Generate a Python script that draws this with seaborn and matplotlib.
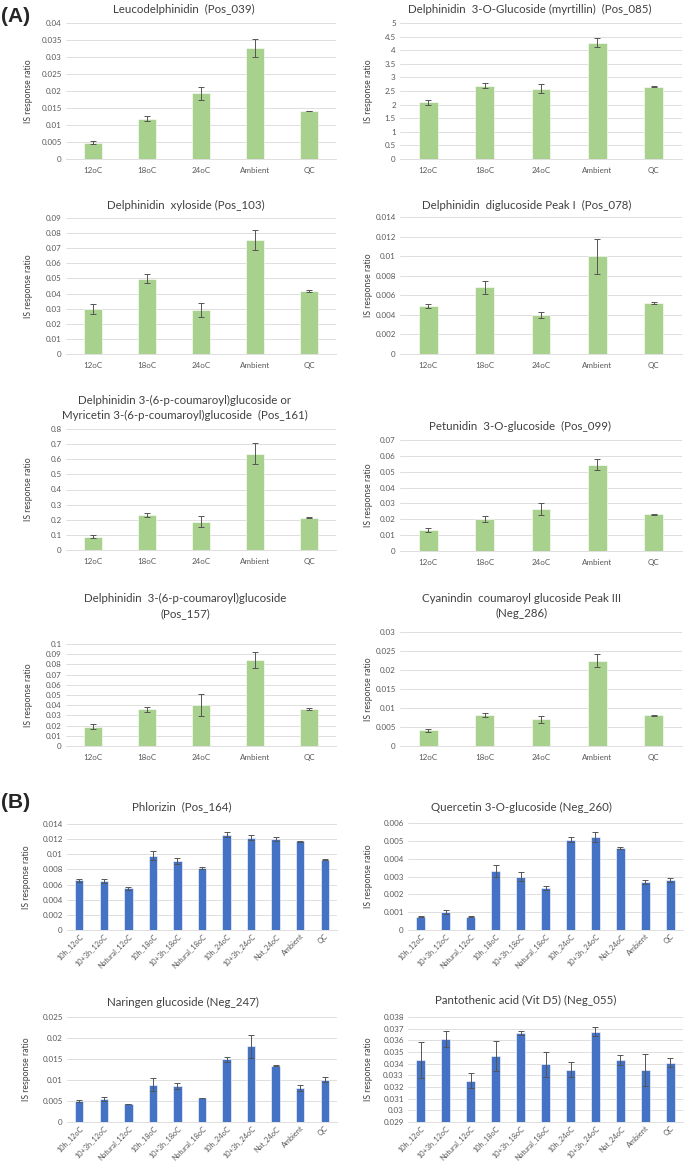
import matplotlib
matplotlib.use("Agg")
import matplotlib.pyplot as plt
import seaborn as sns
import pandas as pd
import numpy as np

# ---------------- data ----------------
temps = ["12oC", "18oC", "24oC", "Ambient", "QC"]
regimes = ["10h_12oC", "10+3h_12oC", "Natural_12oC", "10h_18oC", "10+3h_18oC",
           "Natural_18oC", "10h_24oC", "10+3h_24oC", "Nat_24oC", "Ambient", "QC"]

# (A) anthocyanins
leuco_mean = [0.0048, 0.0119, 0.0193, 0.0327, 0.0141]
leuco_err = [0.0005, 0.0008, 0.0020, 0.0026, 0.0001]
myrt_mean = [2.08, 2.70, 2.59, 4.28, 2.66]
myrt_err = [0.09, 0.10, 0.18, 0.17, 0.02]
xylo_mean = [0.0297, 0.0498, 0.0291, 0.0755, 0.0415]
xylo_err = [0.0033, 0.0030, 0.0045, 0.0065, 0.0007]
diglu_mean = [0.0049, 0.0068, 0.0040, 0.0100, 0.0052]
diglu_err = [0.0002, 0.0007, 0.0003, 0.0018, 0.0001]
p161_mean = [0.088, 0.232, 0.188, 0.637, 0.212]
p161_err = [0.010, 0.012, 0.037, 0.070, 0.003]
petu_mean = [0.0133, 0.0200, 0.0265, 0.0545, 0.0233]
petu_err = [0.0015, 0.0020, 0.0035, 0.0037, 0.0003]
p157_mean = [0.0190, 0.0360, 0.0400, 0.0845, 0.0365]
p157_err = [0.0025, 0.0025, 0.0105, 0.0080, 0.0010]
cyan_mean = [0.0041, 0.0082, 0.0070, 0.0224, 0.0081]
cyan_err = [0.0005, 0.0005, 0.0010, 0.0017, 0.0001]

# (B) other compounds
phlo_mean = [0.0066, 0.0065, 0.0055, 0.0098, 0.0091, 0.0082, 0.0126, 0.0122, 0.0120, 0.0117, 0.0093]
phlo_err = [0.0002, 0.0003, 0.0002, 0.0006, 0.0004, 0.0001, 0.0003, 0.0003, 0.0003, 0.0001, 0.0001]
querc_mean = [0.00075, 0.0010, 0.00075, 0.0033, 0.0030, 0.00235, 0.00507, 0.00523, 0.0046, 0.0027, 0.0028]
querc_err = [0.00003, 0.0001, 0.00002, 0.00033, 0.00025, 0.00013, 0.00015, 0.00028, 0.00005, 0.0001, 0.0001]
narin_mean = [0.0050, 0.0055, 0.0043, 0.0089, 0.0086, 0.0057, 0.0149, 0.0180, 0.0134, 0.0080, 0.0101]
narin_err = [0.0002, 0.0004, 0.0001, 0.0016, 0.0008, 0.0001, 0.0006, 0.0028, 0.0001, 0.0007, 0.0005]
panto_mean = [0.03430, 0.03610, 0.03255, 0.03468, 0.03662, 0.03395, 0.03348, 0.03673, 0.03432, 0.03348, 0.03410]
panto_err = [0.00155, 0.00070, 0.00065, 0.00128, 0.00020, 0.00105, 0.00063, 0.00040, 0.00040, 0.00138, 0.00035]

GREEN = "#A9D18E"
BLUE = "#4472C4"
TXT = "#595959"

sns.set_theme(style="white")
plt.rcParams["font.family"] = ["Lato", "DejaVu Sans"]

W, H = 685, 1163
fig = plt.figure(figsize=(W / 100, H / 100), dpi=100)


def fmt(v, pos=None):
    return f"{round(v, 6):g}"


def draw(box, ylab_x, title, title_xy, cats, mean, err, lo, hi, nticks, color, rotate=False):
    x0, yt, x1, yb = box
    ax = fig.add_axes([x0 / W, 1 - yb / H, (x1 - x0) / W, (yb - yt) / H])
    df = pd.DataFrame({"cat": cats, "val": mean})
    sns.barplot(data=df, x="cat", y="val", ax=ax, color=color, saturation=1,
                width=0.33 if not rotate else 0.34, errorbar=None,
                edgecolor="white", linewidth=0.4)
    ax.errorbar(np.arange(len(cats)), mean, yerr=err, fmt="none", ecolor="#555555",
                elinewidth=0.7, capsize=2, capthick=0.7, zorder=4)
    ax.set_xlim(-0.5, len(cats) - 0.5)
    ax.set_ylim(lo, hi)
    ax.set_yticks(np.linspace(lo, hi, nticks))
    ax.yaxis.set_major_formatter(plt.FuncFormatter(fmt))
    ax.yaxis.grid(True, color="#D9D9D9", lw=0.6)
    ax.set_axisbelow(True)
    for s in ["top", "right", "left"]:
        ax.spines[s].set_visible(False)
    ax.spines["bottom"].set_color("#D9D9D9")
    ax.spines["bottom"].set_linewidth(0.6)
    ax.tick_params(axis="both", length=0, labelsize=5.8, labelcolor=TXT, pad=3)
    ax.set_xlabel("")
    ax.set_ylabel("IS response ratio", fontsize=6.2, color="#404040")
    ax.yaxis.set_label_coords((ylab_x - x0) / (x1 - x0), 0.5)
    if rotate:
        for lbl in ax.get_xticklabels():
            lbl.set_rotation(45)
            lbl.set_ha("right")
            lbl.set_rotation_mode("anchor")
            lbl.set_fontsize(5.3)
        ax.tick_params(axis="x", pad=2)
    else:
        ax.tick_params(axis="x", pad=6)
    fig.text(title_xy[0] / W, 1 - title_xy[1] / H, title, ha="center", va="center",
             fontsize=8.3, color="#404040", linespacing=1.35)
    return ax


LX0, LX1, RX0, RX1 = 66, 336, 400, 682

draw((LX0, 23, LX1, 159), 33, "Leucodelphinidin  (Pos_039)", (184, 9),
     temps, leuco_mean, leuco_err, 0, 0.04, 9, GREEN)
draw((RX0, 23, RX1, 159), 373, "Delphinidin  3-O-Glucoside (myrtillin)  (Pos_085)", (530, 9),
     temps, myrt_mean, myrt_err, 0, 5, 11, GREEN)
draw((LX0, 218, LX1, 354), 33, "Delphinidin  xyloside (Pos_103)", (186, 205),
     temps, xylo_mean, xylo_err, 0, 0.09, 10, GREEN)
draw((RX0, 217, RX1, 354), 373, "Delphinidin  diglucoside Peak I  (Pos_078)", (527, 205),
     temps, diglu_mean, diglu_err, 0, 0.014, 8, GREEN)
draw((LX0, 429, LX1, 550), 33,
     "Delphinidin 3-(6-p-coumaroyl)glucoside or\nMyricetin 3-(6-p-coumaroyl)glucoside  (Pos_161)",
     (185, 408), temps, p161_mean, p161_err, 0, 0.8, 9, GREEN)
draw((RX0, 440, RX1, 551), 373, "Petunidin  3-O-glucoside  (Pos_099)", (520, 426),
     temps, petu_mean, petu_err, 0, 0.07, 8, GREEN)
draw((LX0, 644, LX1, 746), 33, "Delphinidin  3-(6-p-coumaroyl)glucoside\n(Pos_157)", (185, 606),
     temps, p157_mean, p157_err, 0, 0.1, 11, GREEN)
draw((RX0, 632, RX1, 746), 373, "Cyanindin  coumaroyl glucoside Peak III\n(Neg_286)", (522, 606),
     temps, cyan_mean, cyan_err, 0, 0.03, 7, GREEN)

BX0, BX1, CX0, CX1 = 67, 337, 408, 683
draw((BX0, 824, BX1, 930), 31, "Phlorizin  (Pos_164)", (182, 807),
     regimes, phlo_mean, phlo_err, 0, 0.014, 8, BLUE, rotate=True)
draw((CX0, 823, CX1, 930), 373, "Quercetin 3-O-glucoside (Neg_260)", (521, 807),
     regimes, querc_mean, querc_err, 0, 0.006, 7, BLUE, rotate=True)
draw((BX0, 1017, BX1, 1122), 31, "Naringen glucoside (Neg_247)", (183, 1002),
     regimes, narin_mean, narin_err, 0, 0.025, 6, BLUE, rotate=True)
draw((CX0, 1017, CX1, 1122), 373, "Pantothenic acid (Vit D5) (Neg_055)", (526, 1000),
     regimes, panto_mean, panto_err, 0.029, 0.038, 10, BLUE, rotate=True)

fig.text(1 / W, 1 - 17 / H, "(A)", fontsize=15, fontweight="bold", ha="left", va="center",
         family=["Liberation Sans", "DejaVu Sans"])
fig.text(1 / W, 1 - 803 / H, "(B)", fontsize=15, fontweight="bold", ha="left", va="center",
         family=["Liberation Sans", "DejaVu Sans"])

fig.savefig("out.png", dpi=100)
